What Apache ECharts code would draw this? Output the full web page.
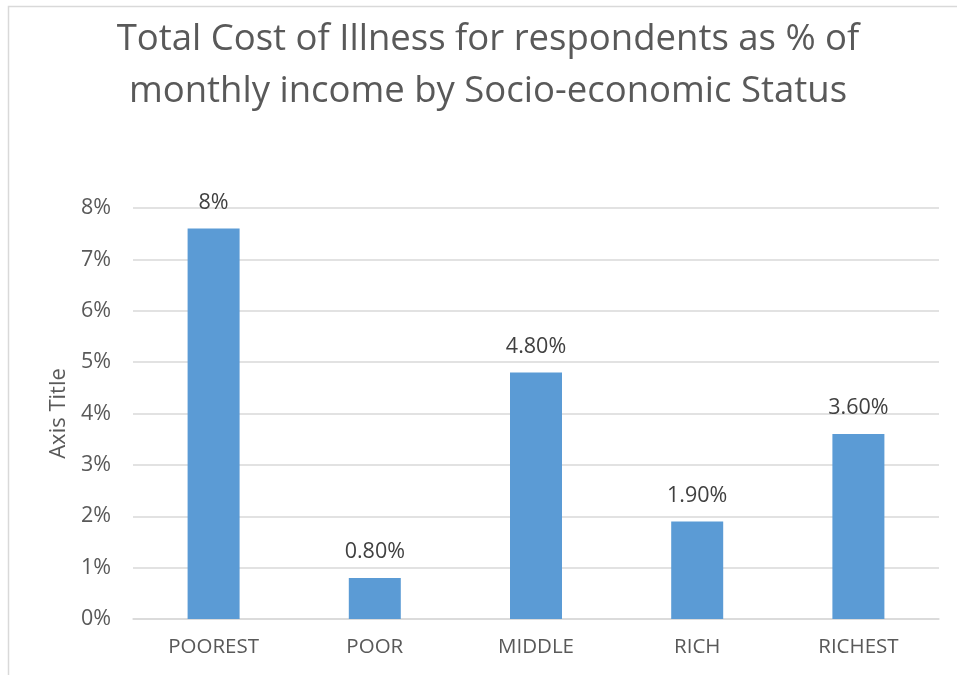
<!DOCTYPE html>
<html>
<head>
<meta charset="utf-8">
<script src="https://cdn.jsdelivr.net/npm/echarts@6/dist/echarts.min.js"></script>
<style>
html,body{margin:0;padding:0;background:#fff;}
#c{width:957px;height:675px;}
</style>
</head>
<body>
<div id="c"></div>
<script>
var categories = ['POOREST', 'POOR', 'MIDDLE', 'RICH', 'RICHEST'];
var values = [7.6, 0.8, 4.8, 1.9, 3.6];
var valueLabels = ['8%', '0.80%', '4.80%', '1.90%', '3.60%'];
var yTicks = [0, 1, 2, 3, 4, 5, 6, 7, 8];

var FONT = '"Open Sans", sans-serif';
var chart = echarts.init(document.getElementById('c'));
chart.setOption({
  animation: false,
  backgroundColor: '#fff',
  graphic: [{
    type: 'rect',
    shape: {x: 8.5, y: 6.5, width: 1000, height: 1000},
    style: {fill: 'none', stroke: '#d9d9d9', lineWidth: 1.5},
    z: -1
  }],
  title: {
    text: 'Total Cost of Illness for respondents as % of\nmonthly income by Socio-economic Status',
    left: 483,
    textAlign: 'center',
    top: 9,
    textStyle: {fontFamily: FONT, fontSize: 36.5, fontWeight: 'normal', color: '#595959', lineHeight: 52}
  },
  grid: {left: 133, right: 18, top: 208, bottom: 56},
  xAxis: {
    type: 'category',
    data: categories,
    axisLine: {lineStyle: {color: '#d9d9d9', width: 1.5}},
    axisTick: {show: false},
    axisLabel: {fontFamily: FONT, fontSize: 20.5, color: '#595959', margin: 18}
  },
  yAxis: {
    type: 'value',
    min: 0,
    max: 8,
    interval: 1,
    name: 'Axis Title',
    nameLocation: 'middle',
    nameGap: 61,
    nameTextStyle: {fontFamily: FONT, fontSize: 22, color: '#595959'},
    axisLine: {show: false},
    axisTick: {show: false},
    splitLine: {lineStyle: {color: '#d9d9d9', width: 1.5}},
    axisLabel: {fontFamily: FONT, fontSize: 21.5, color: '#595959', margin: 22,
      formatter: function (v) { return v + '%'; }}
  },
  series: [{
    type: 'bar',
    data: values,
    barWidth: 52,
    itemStyle: {color: '#5B9BD5'},
    label: {
      show: true,
      position: 'top',
      distance: 15,
      fontFamily: FONT,
      fontSize: 21.5,
      color: '#404040',
      formatter: function (p) { return valueLabels[p.dataIndex]; }
    }
  }]
});
</script>
</body>
</html>
